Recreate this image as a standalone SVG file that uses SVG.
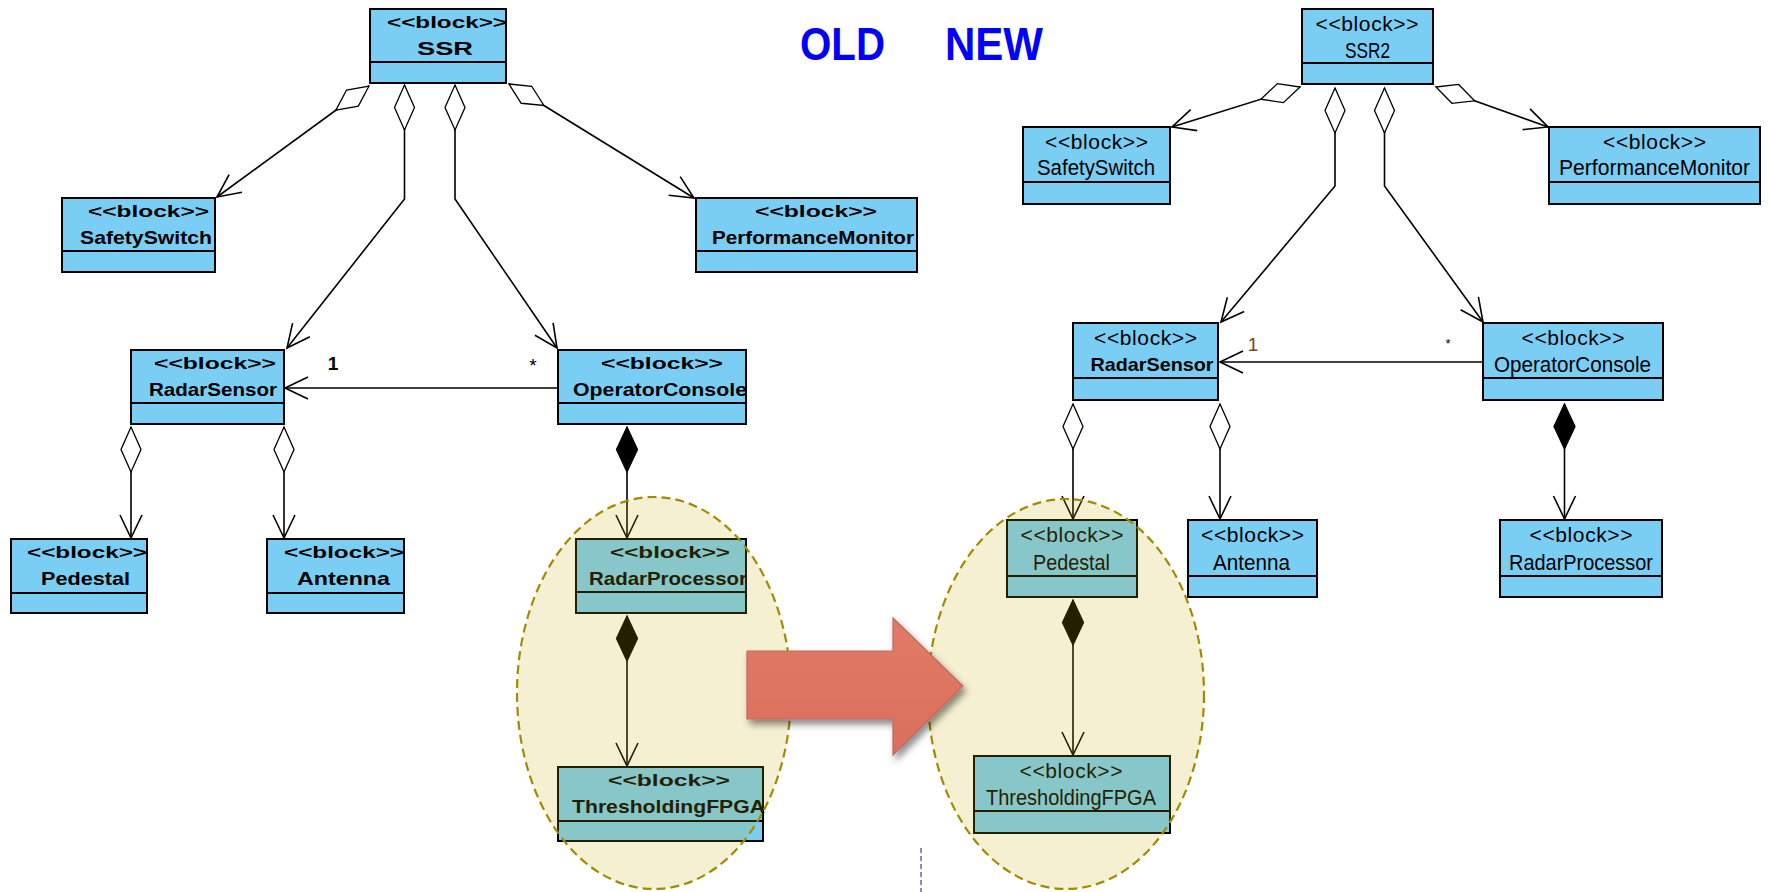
<svg xmlns="http://www.w3.org/2000/svg" width="1768" height="892" viewBox="0 0 1768 892">
<style>
.box{fill:#7ACEF4;stroke:#000;stroke-width:2}
.div{stroke:#000;stroke-width:2}
.os{font-family:"Liberation Sans",Arial,sans-serif;font-size:17px;font-weight:bold;text-anchor:middle;fill:#000}
.on{font-family:"Liberation Sans",Arial,sans-serif;font-size:19px;font-weight:bold;text-anchor:middle;fill:#000}
.ns{font-family:"Liberation Sans",Arial,sans-serif;font-size:21px;text-anchor:middle;fill:#000}
.nn{font-family:"Liberation Sans",Arial,sans-serif;font-size:22px;text-anchor:middle;fill:#000}
.con{fill:none;stroke:#000;stroke-width:1.6}
.lbl{font-family:"Liberation Sans",Arial,sans-serif;fill:#000;text-anchor:middle}
.title{font-family:"Liberation Sans",Arial,sans-serif;font-size:46px;font-weight:bold;fill:#0000FF}
.hl{fill:#C8AC05;fill-opacity:0.18;stroke:#A08C00;stroke-width:2.2;stroke-dasharray:9 5}
</style>
<defs>
<marker id="hd" markerUnits="userSpaceOnUse" markerWidth="50" markerHeight="30" refX="0" refY="0" orient="auto" overflow="visible">
<path d="M0 0 L22.5 -10 L45 0 L22.5 10 Z" fill="#fff" stroke="#000" stroke-width="1.3"/>
</marker>
<marker id="hds" markerUnits="userSpaceOnUse" markerWidth="50" markerHeight="30" refX="0" refY="0" orient="auto" overflow="visible">
<path d="M0 0 L20.5 -10 L41 0 L20.5 10 Z" fill="#fff" stroke="#000" stroke-width="1.3"/>
</marker>
<marker id="fd" markerUnits="userSpaceOnUse" markerWidth="50" markerHeight="30" refX="0" refY="0" orient="auto" overflow="visible">
<path d="M0 0 L22.5 -10.5 L45 0 L22.5 10.5 Z" fill="#000" stroke="#000" stroke-width="1.3"/>
</marker>
<marker id="ar" markerUnits="userSpaceOnUse" markerWidth="30" markerHeight="30" refX="0" refY="0" orient="auto" overflow="visible">
<path d="M-23 -11 L0 0 L-23 11" fill="none" stroke="#000" stroke-width="1.6"/>
</marker>
<filter id="sh" x="-20%" y="-20%" width="140%" height="150%">
<feDropShadow dx="3" dy="5" stdDeviation="3.5" flood-color="#000" flood-opacity="0.45"/>
</filter>
<linearGradient id="rg" x1="0" y1="0" x2="0" y2="1">
<stop offset="0" stop-color="#E27A67"/>
<stop offset="1" stop-color="#D96F5D"/>
</linearGradient>
</defs>

<rect width="1768" height="892" fill="#fff"/>

<text class="title" x="800" y="60" textLength="85" lengthAdjust="spacingAndGlyphs">OLD</text>
<text class="title" x="945" y="60" textLength="98" lengthAdjust="spacingAndGlyphs">NEW</text>

<g id="connectors">
<!-- OLD -->
<path class="con" d="M369 86 L217 197" marker-start="url(#hds)" marker-end="url(#ar)"/>
<path class="con" d="M509 84 L694 198" marker-start="url(#hds)" marker-end="url(#ar)"/>
<path class="con" d="M404.5 85 L404.5 199 L287 348" marker-start="url(#hd)" marker-end="url(#ar)"/>
<path class="con" d="M455 85 L455 199 L557 348" marker-start="url(#hd)" marker-end="url(#ar)"/>
<path class="con" d="M558 388 L285 388" marker-end="url(#ar)"/>
<text class="lbl" x="333" y="370" font-size="19" font-weight="bold">1</text>
<text class="lbl" x="533" y="372" font-size="19">*</text>
<path class="con" d="M131 427 L131 538" marker-start="url(#hd)" marker-end="url(#ar)"/>
<path class="con" d="M284 427 L284 538" marker-start="url(#hd)" marker-end="url(#ar)"/>
<path class="con" d="M627 427 L627 538" marker-start="url(#fd)" marker-end="url(#ar)"/>
<path class="con" d="M627 616 L627 766" marker-start="url(#fd)" marker-end="url(#ar)"/>
<!-- NEW -->
<path class="con" d="M1300 87 L1172 127" marker-start="url(#hds)" marker-end="url(#ar)"/>
<path class="con" d="M1436 87 L1548 127" marker-start="url(#hds)" marker-end="url(#ar)"/>
<path class="con" d="M1335 88 L1335 186 L1221 322" marker-start="url(#hd)" marker-end="url(#ar)"/>
<path class="con" d="M1384.5 88 L1384.5 186 L1483 322" marker-start="url(#hd)" marker-end="url(#ar)"/>
<path class="con" d="M1483 362 L1220 362" marker-end="url(#ar)"/>
<text class="lbl" x="1253" y="351" font-size="19" fill="#6E4A28" style="fill:#6E4A28">1</text>
<text class="lbl" x="1448" y="348" font-size="13">*</text>
<path class="con" d="M1073 404 L1073 519" marker-start="url(#hd)" marker-end="url(#ar)"/>
<path class="con" d="M1220 404 L1220 519" marker-start="url(#hd)" marker-end="url(#ar)"/>
<path class="con" d="M1564.5 404 L1564.5 519" marker-start="url(#fd)" marker-end="url(#ar)"/>
<path class="con" d="M1073 600 L1073 755" marker-start="url(#fd)" marker-end="url(#ar)"/>
</g>

<!-- OLD nodes -->
<g id="old-SSR">
<rect class="box" x="370" y="9" width="136" height="74"/>
<line class="div" x1="370" y1="62" x2="506" y2="62"/>
<text class="os" x="447" y="28" textLength="120" lengthAdjust="spacingAndGlyphs">&lt;&lt;block&gt;&gt;</text>
<text class="on" x="445" y="55" textLength="56" lengthAdjust="spacingAndGlyphs">SSR</text>
</g>
<g id="old-SafetySwitch">
<rect class="box" x="62" y="198" width="153" height="74"/>
<line class="div" x1="62" y1="251" x2="215" y2="251"/>
<text class="os" x="148.5" y="217" textLength="121" lengthAdjust="spacingAndGlyphs">&lt;&lt;block&gt;&gt;</text>
<text class="on" x="146" y="244" textLength="132" lengthAdjust="spacingAndGlyphs">SafetySwitch</text>
</g>
<g id="old-PerformanceMonitor">
<rect class="box" x="696" y="198" width="221" height="74"/>
<line class="div" x1="696" y1="251" x2="917" y2="251"/>
<text class="os" x="816" y="217" textLength="122" lengthAdjust="spacingAndGlyphs">&lt;&lt;block&gt;&gt;</text>
<text class="on" x="813" y="244" textLength="202" lengthAdjust="spacingAndGlyphs">PerformanceMonitor</text>
</g>
<g id="old-RadarSensor">
<rect class="box" x="131" y="350" width="153" height="74"/>
<line class="div" x1="131" y1="403" x2="284" y2="403"/>
<text class="os" x="215" y="369" textLength="122" lengthAdjust="spacingAndGlyphs">&lt;&lt;block&gt;&gt;</text>
<text class="on" x="213" y="396" textLength="128" lengthAdjust="spacingAndGlyphs">RadarSensor</text>
</g>
<g id="old-OperatorConsole">
<rect class="box" x="558" y="350" width="188" height="74"/>
<line class="div" x1="558" y1="403" x2="746" y2="403"/>
<text class="os" x="662" y="369" textLength="122" lengthAdjust="spacingAndGlyphs">&lt;&lt;block&gt;&gt;</text>
<text class="on" x="660" y="396" textLength="174" lengthAdjust="spacingAndGlyphs">OperatorConsole</text>
</g>
<g id="old-Pedestal">
<rect class="box" x="11" y="539" width="136" height="74"/>
<line class="div" x1="11" y1="593" x2="147" y2="593"/>
<text class="os" x="87" y="558" textLength="120" lengthAdjust="spacingAndGlyphs">&lt;&lt;block&gt;&gt;</text>
<text class="on" x="85.5" y="585" textLength="89" lengthAdjust="spacingAndGlyphs">Pedestal</text>
</g>
<g id="old-Antenna">
<rect class="box" x="267" y="539" width="137" height="74"/>
<line class="div" x1="267" y1="593" x2="404" y2="593"/>
<text class="os" x="344" y="558" textLength="120" lengthAdjust="spacingAndGlyphs">&lt;&lt;block&gt;&gt;</text>
<text class="on" x="343.5" y="585" textLength="93" lengthAdjust="spacingAndGlyphs">Antenna</text>
</g>
<g id="old-RadarProcessor">
<rect class="box" x="576" y="539" width="170" height="74"/>
<line class="div" x1="576" y1="592" x2="746" y2="592"/>
<text class="os" x="670" y="558" textLength="120" lengthAdjust="spacingAndGlyphs">&lt;&lt;block&gt;&gt;</text>
<text class="on" x="668" y="585" textLength="158" lengthAdjust="spacingAndGlyphs">RadarProcessor</text>
</g>
<g id="old-ThresholdingFPGA">
<rect class="box" x="558" y="767" width="205" height="74"/>
<line class="div" x1="558" y1="821" x2="763" y2="821"/>
<text class="os" x="669" y="786" textLength="122" lengthAdjust="spacingAndGlyphs">&lt;&lt;block&gt;&gt;</text>
<text class="on" x="668.5" y="813" textLength="193" lengthAdjust="spacingAndGlyphs">ThresholdingFPGA</text>
</g>

<!-- NEW nodes -->
<g id="new-SSR2">
<rect class="box" x="1302" y="9" width="131" height="75"/>
<line class="div" x1="1302" y1="63" x2="1433" y2="63"/>
<text class="ns" x="1367" y="31" textLength="103" lengthAdjust="spacing">&lt;&lt;block&gt;&gt;</text>
<text class="nn" x="1367.5" y="58" textLength="45" lengthAdjust="spacingAndGlyphs">SSR2</text>
</g>
<g id="new-SafetySwitch">
<rect class="box" x="1023" y="127" width="147" height="77"/>
<line class="div" x1="1023" y1="182" x2="1170" y2="182"/>
<text class="ns" x="1096.5" y="149" textLength="103" lengthAdjust="spacing">&lt;&lt;block&gt;&gt;</text>
<text class="nn" x="1096" y="175" textLength="118" lengthAdjust="spacingAndGlyphs">SafetySwitch</text>
</g>
<g id="new-PerformanceMonitor">
<rect class="box" x="1549" y="127" width="211" height="77"/>
<line class="div" x1="1549" y1="182" x2="1760" y2="182"/>
<text class="ns" x="1654.5" y="149" textLength="103" lengthAdjust="spacing">&lt;&lt;block&gt;&gt;</text>
<text class="nn" x="1654.5" y="175" textLength="191" lengthAdjust="spacingAndGlyphs">PerformanceMonitor</text>
</g>
<g id="new-RadarSensor">
<rect class="box" x="1073" y="323" width="145" height="77"/>
<line class="div" x1="1073" y1="378" x2="1218" y2="378"/>
<text class="ns" x="1145.5" y="345" textLength="103" lengthAdjust="spacing">&lt;&lt;block&gt;&gt;</text>
<text class="on" x="1152" y="371" font-size="20" textLength="123" lengthAdjust="spacingAndGlyphs">RadarSensor</text>
</g>
<g id="new-OperatorConsole">
<rect class="box" x="1483" y="323" width="180" height="77"/>
<line class="div" x1="1483" y1="378" x2="1663" y2="378"/>
<text class="ns" x="1573" y="345" textLength="103" lengthAdjust="spacing">&lt;&lt;block&gt;&gt;</text>
<text class="nn" x="1572.5" y="372" textLength="157" lengthAdjust="spacingAndGlyphs">OperatorConsole</text>
</g>
<g id="new-Pedestal">
<rect class="box" x="1007" y="520" width="130" height="77"/>
<line class="div" x1="1007" y1="576" x2="1137" y2="576"/>
<text class="ns" x="1072" y="542" textLength="103" lengthAdjust="spacing">&lt;&lt;block&gt;&gt;</text>
<text class="nn" x="1071.5" y="570" textLength="77" lengthAdjust="spacingAndGlyphs">Pedestal</text>
</g>
<g id="new-Antenna">
<rect class="box" x="1188" y="520" width="129" height="77"/>
<line class="div" x1="1188" y1="576" x2="1317" y2="576"/>
<text class="ns" x="1252.5" y="542" textLength="103" lengthAdjust="spacing">&lt;&lt;block&gt;&gt;</text>
<text class="nn" x="1251.5" y="570" textLength="77" lengthAdjust="spacingAndGlyphs">Antenna</text>
</g>
<g id="new-RadarProcessor">
<rect class="box" x="1500" y="520" width="162" height="77"/>
<line class="div" x1="1500" y1="576" x2="1662" y2="576"/>
<text class="ns" x="1581" y="542" textLength="103" lengthAdjust="spacing">&lt;&lt;block&gt;&gt;</text>
<text class="nn" x="1581" y="570" textLength="144" lengthAdjust="spacingAndGlyphs">RadarProcessor</text>
</g>
<g id="new-ThresholdingFPGA">
<rect class="box" x="974" y="756" width="196" height="77"/>
<line class="div" x1="974" y1="811" x2="1170" y2="811"/>
<text class="ns" x="1071" y="778" textLength="103" lengthAdjust="spacing">&lt;&lt;block&gt;&gt;</text>
<text class="nn" x="1071" y="805" textLength="170" lengthAdjust="spacingAndGlyphs">ThresholdingFPGA</text>
</g>

<!-- highlight ellipses -->
<g id="highlights">
<ellipse class="hl" cx="654" cy="693" rx="137" ry="196"/>
<ellipse class="hl" cx="1066" cy="694" rx="138" ry="195"/>
</g>

<line x1="921" y1="848" x2="921" y2="892" stroke="#8A8FB0" stroke-width="2" stroke-dasharray="5 3"/>

<g id="change-arrow">
<polygon points="747,651 893,651 893,618 963,686 893,755 893,719 747,719" fill="url(#rg)" stroke="#C0685A" stroke-width="1.2" filter="url(#sh)"/>
</g>
</svg>
